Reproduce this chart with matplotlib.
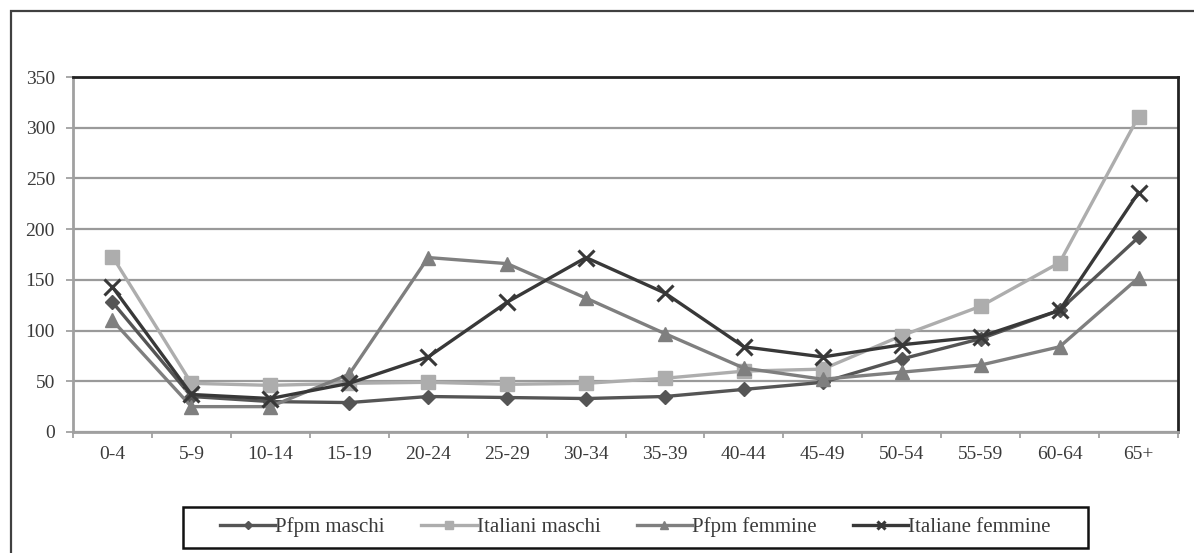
import matplotlib
matplotlib.use("Agg")
import matplotlib.pyplot as plt
from matplotlib.patches import Rectangle

plt.rcParams["font.family"] = ["Liberation Serif", "DejaVu Serif"]

W, H = 1194, 553

categories = ["0-4", "5-9", "10-14", "15-19", "20-24", "25-29", "30-34",
              "35-39", "40-44", "45-49", "50-54", "55-59", "60-64", "65+"]
pfpm_maschi = [128, 35, 30, 29, 35, 34, 33, 35, 42, 49, 72, 92, 120, 192]
italiani_maschi = [173, 48, 46, 48, 49, 47, 48, 53, 60, 62, 95, 124, 167, 311]
pfpm_femmine = [110, 25, 25, 57, 172, 166, 132, 97, 63, 52, 59, 66, 84, 152]
italiane_femmine = [143, 37, 33, 48, 74, 128, 172, 137, 84, 74, 86, 94, 120, 236]
y_ticks = [0, 50, 100, 150, 200, 250, 300, 350]

fig = plt.figure(figsize=(W / 100, H / 100), dpi=100)
fig.patch.set_facecolor("white")

# outer chart frame (runs off right / bottom edge in the scan)
fig.patches.append(Rectangle((11 / W, -0.05), 1.1, (H - 11) / H + 0.05,
                             transform=fig.transFigure, fill=False,
                             edgecolor="#404040", lw=1.6))

x0, x1, ytop, ybot = 73, 1178, 77, 432
ax = fig.add_axes([x0 / W, (H - ybot) / H, (x1 - x0) / W, (ybot - ytop) / H])
x = list(range(len(categories)))

series = [
    ("Pfpm maschi", pfpm_maschi, "#555555", "D", 7, 1),
    ("Italiani maschi", italiani_maschi, "#adadad", "s", 10, 1),
    ("Pfpm femmine", pfpm_femmine, "#7f7f7f", "^", 10, 1),
    ("Italiane femmine", italiane_femmine, "#383838", "x", 11, 2.2),
]
handles = []
for name, vals, col, mk, ms, mew in series:
    h, = ax.plot(x, vals, color=col, lw=2.4, marker=mk, ms=ms,
                 mec=col, mfc=col, mew=mew, label=name, zorder=3)
    handles.append(h)

ax.set_xlim(-0.5, len(categories) - 0.5)
ax.set_ylim(0, 350)
ax.set_yticks(y_ticks)
ax.yaxis.grid(True, color="#9a9a9a", lw=1.6)
ax.set_axisbelow(True)
ax.set_xticks(x)
ax.set_xticklabels(categories)
ax.set_xticks([i - 0.5 for i in range(len(categories) + 1)], minor=True)
ax.tick_params(axis="x", which="major", length=0, pad=10, labelsize=14,
               labelcolor="#3a3a3a")
ax.tick_params(axis="x", which="minor", length=4, width=1.2, color="#999999")
ax.tick_params(axis="y", length=5, width=1.2, color="#999999", pad=8,
               labelsize=14, labelcolor="#3a3a3a")
for s in ("left", "bottom"):
    ax.spines[s].set_color("#a0a0a0")
    ax.spines[s].set_linewidth(2)
for s in ("top", "right"):
    ax.spines[s].set_color("#222222")
    ax.spines[s].set_linewidth(2)

# legend box drawn separately (Excel-style wide padding)
lx0, lx1, ly0, ly1 = 183, 1088, 507, 548
fig.patches.append(Rectangle((lx0 / W, (H - ly1) / H), (lx1 - lx0) / W,
                             (ly1 - ly0) / H, transform=fig.transFigure,
                             fill=False, edgecolor="#111111", lw=1.8))
leg = fig.legend(handles=handles, ncol=4, loc="center",
                 bbox_to_anchor=((lx0 + lx1) / 2 / W, (H - (ly0 + ly1) / 2) / H),
                 frameon=False, fontsize=15, handlelength=2.65,
                 handletextpad=0.0, columnspacing=1.75, markerscale=0.55,
                 borderpad=0.2, borderaxespad=0)
for t in leg.get_texts():
    t.set_color("#3a3a3a")

fig.savefig("out.png", dpi=100, facecolor="white")
